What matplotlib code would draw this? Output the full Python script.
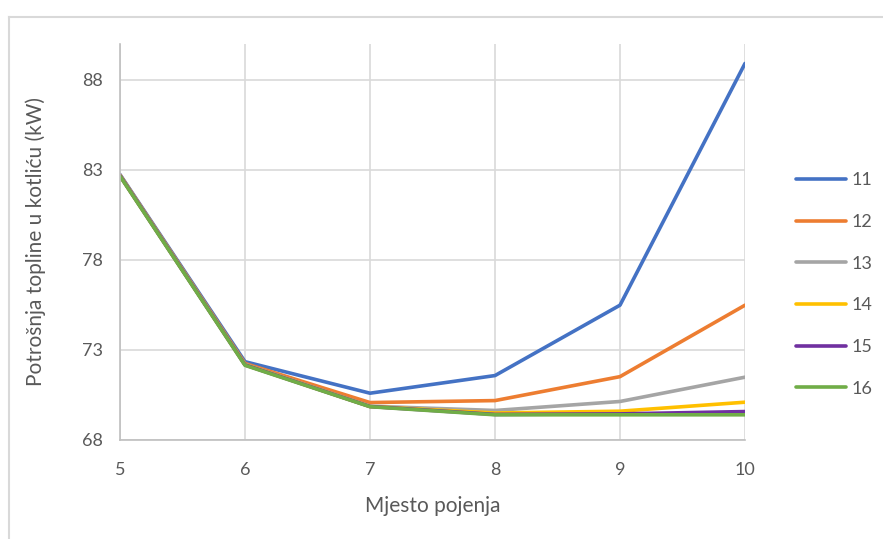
import matplotlib
matplotlib.use("Agg")
from matplotlib import pyplot as plt
from matplotlib.lines import Line2D

# feeding point positions
x_pos = [5, 6, 7, 8, 9, 10]

# heat consumption per series (kW)
s11 = [82.75, 72.35, 70.60, 71.58, 75.49, 88.92]
s12 = [82.72, 72.25, 70.08, 70.19, 71.52, 75.49]
s13 = [82.70, 72.20, 69.88, 69.64, 70.14, 71.49]
s14 = [82.68, 72.18, 69.86, 69.50, 69.60, 70.10]
s15 = [82.68, 72.17, 69.86, 69.42, 69.45, 69.58]
s16 = [82.66, 72.15, 69.85, 69.40, 69.40, 69.40]

series_names = ["11", "12", "13", "14", "15", "16"]
colors = ["#4472c4", "#ed7d31", "#a5a5a5", "#ffc000", "#7030a0", "#70ad47"]

y_ticks = [68, 73, 78, 83, 88]

plt.rcParams['font.family'] = ['Lato', 'DejaVu Sans']

fig = plt.figure(figsize=(8.83, 5.39), dpi=100)
ax = fig.add_axes([120 / 883, 99 / 539, 625 / 883, 396 / 539])

for name, vals, c in zip(series_names, [s11, s12, s13, s14, s15, s16], colors):
    ax.plot(x_pos, vals, color=c, lw=2.6, label=name, solid_capstyle='round')

ax.set_xlim(5, 10)
ax.set_ylim(68, 90)
ax.set_xticks(x_pos)
ax.set_yticks(y_ticks)
ax.grid(True, color="#d9d9d9", lw=1.2)
ax.set_axisbelow(True)
for side in ["top", "right"]:
    ax.spines[side].set_visible(False)
for side in ["left", "bottom"]:
    ax.spines[side].set_color("#bfbfbf")
    ax.spines[side].set_linewidth(1.2)
ax.tick_params(length=0, labelsize=13, labelcolor="#595959")
ax.tick_params(axis="x", pad=16)
ax.tick_params(axis="y", pad=12)

ax.set_xlabel("Mjesto pojenja", fontsize=15, color="#595959", labelpad=13)
ax.set_ylabel("Potrošnja topline u kotliću (kW)", fontsize=15, color="#595959", labelpad=26)

# legend to the right of the plot
leg = ax.legend(loc="upper left", bbox_to_anchor=(1.055, 0.717), frameon=False,
                fontsize=13, labelspacing=1.42, handlelength=2.8, handletextpad=0.3)
for t in leg.get_texts():
    t.set_color("#595959")

# outer chart border
fig.add_artist(Line2D([9 / 883, 9 / 883], [0, 1 - 17 / 539], color="#d9d9d9", lw=1.5))
fig.add_artist(Line2D([9 / 883, 1], [1 - 17 / 539, 1 - 17 / 539], color="#d9d9d9", lw=1.5))

fig.savefig("out.png", dpi=100)
